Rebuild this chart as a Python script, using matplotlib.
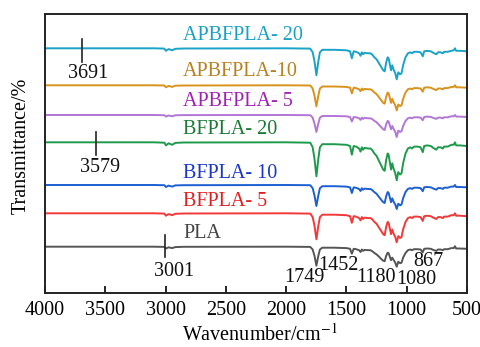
import matplotlib
matplotlib.use('Agg')
import matplotlib.pyplot as plt
import numpy as np

plt.rcParams['font.family'] = ['Liberation Serif', 'DejaVu Serif']
plt.rcParams['mathtext.fontset'] = 'stix'

# shared wavenumber grid (cm-1)
wavenumber = [4000, 3100, 3010, 2997, 2975, 2945, 2920, 2850,
              2000, 1800, 1780, 1765, 1749, 1733, 1720, 1700,
              1600, 1500, 1470, 1455, 1440, 1420, 1395, 1383,
              1372, 1362, 1350, 1320, 1300, 1285, 1268, 1250,
              1230, 1210, 1195, 1183, 1170, 1158, 1150, 1130,
              1120, 1110, 1095, 1083, 1070, 1055, 1043, 1030,
              1010, 990, 970, 956, 940, 910, 885, 867,
              855, 830, 800, 780, 755, 740, 720, 700,
              690, 660, 630, 610, 600, 590, 560, 500]

# dip below each trace's baseline
apb20 = [0, 0, 0.3, 2.5, 0.8, 2.0, 0.5, 0.2,
         0, 0.3, 4, 13, 27, 13, 4, 1.5,
         1.5, 2, 3, 10, 3, 3.5, 5, 7.5,
         4, 6, 4.5, 5, 5, 6.5, 9, 11,
         15, 19, 22, 23, 14, 9, 10, 22,
         17, 21, 25, 31, 24, 26, 25, 17,
         9, 5, 4, 5, 3.5, 3.5, 4, 8,
         3, 2.5, 3, 4.5, 6, 4, 4, 5,
         3.5, 3.5, 2.5, 2, 0, 2.5, 2.5, 3]
apb10 = [0, 0, 0.2, 2.0, 0.6, 1.6, 0.4, 0.2,
         0, 0.2, 3.2, 10.4, 21, 10.4, 3.2, 1.2,
         1.2, 1.6, 2.4, 8, 2.4, 2.8, 4, 6,
         3.2, 4.8, 3.6, 4, 4, 5.2, 7.2, 8.8,
         12, 15.2, 17.6, 18.4, 11.2, 7.2, 8, 17.6,
         13.6, 16.8, 20, 25, 19.2, 20.8, 20, 13.6,
         7.2, 4, 3.2, 4, 2.8, 2.8, 3.2, 6.4,
         2.4, 2, 2.4, 3.6, 4.8, 3.2, 3.2, 4,
         2.8, 2.8, 1.6, 1.6, 0, 2, 2, 2.4]
apb5 = [0, 0, 0.2, 1.6, 0.5, 1.3, 0.3, 0.1,
        0, 0.2, 2.6, 8.5, 17, 8.5, 2.6, 1,
        1, 1.3, 2, 6.5, 2, 2.3, 3.3, 4.9,
        2.6, 3.9, 2.9, 3.3, 3.3, 4.2, 5.9, 7.2,
        9.8, 12.4, 14.3, 15, 9.1, 5.9, 6.5, 14.3,
        11, 13.7, 17, 22, 15.6, 16.9, 16.3, 11,
        5.9, 3.3, 2.6, 3.3, 2.3, 2.3, 2.6, 5.2,
        2, 1.6, 2, 2.9, 3.9, 2.6, 2.6, 3.3,
        2.3, 2.3, 1.3, 1.3, 0, 1.6, 1.6, 2]
bf20 = [0, 0, 0.4, 3.1, 1, 2.5, 0.6, 0.2,
        0, 0.4, 5, 16.4, 34, 16.4, 5, 1.9,
        1.9, 2.5, 3.7, 12.4, 3.7, 4.3, 6.2, 9.3,
        5, 7.4, 5.6, 6.2, 6.2, 8, 11.2, 13.6,
        18.6, 23.6, 27.3, 28.5, 17.4, 11.2, 12.4, 27.3,
        21, 26, 31, 38, 29.8, 32.2, 31, 21,
        11.2, 6.2, 5, 6.2, 4.3, 4.3, 5, 9.9,
        3.7, 3.1, 3.7, 5.6, 7.4, 5, 5, 6.2,
        4.3, 4.3, 2.5, 2.5, 0, 3.1, 3.1, 3.7]
bf10 = [0, 0, 0.2, 2.0, 0.6, 1.6, 0.4, 0.2,
        0, 0.2, 3.2, 10.4, 21, 10.4, 3.2, 1.2,
        1.2, 1.6, 2.4, 8, 2.4, 2.8, 4, 6,
        3.2, 4.8, 3.6, 4, 4, 5.2, 7.2, 8.8,
        12, 15, 17.2, 18, 11, 7, 7.8, 17.2,
        13.3, 16.4, 19.5, 24, 18.7, 20.3, 19.5, 13.3,
        7, 3.9, 3.1, 3.9, 2.7, 2.7, 3.1, 6.2,
        2.3, 2, 2.3, 3.5, 4.7, 3.1, 3.1, 3.9,
        2.7, 2.7, 1.6, 1.6, 0, 2, 2, 2.3]
bf5 = [0, 0, 0.3, 2.4, 0.8, 1.9, 0.5, 0.2,
       0, 0.3, 3.8, 12.4, 26, 12.4, 3.8, 1.4,
       1.4, 1.9, 2.9, 9.5, 2.9, 3.3, 4.8, 7.1,
       3.8, 5.7, 4.3, 4.8, 4.8, 6.2, 8.6, 10.5,
       14.3, 18, 20.9, 21.9, 13.3, 8.6, 9.5, 20.9,
       16.2, 20, 23.8, 29, 22.8, 24.7, 23.8, 16.2,
       8.6, 4.8, 3.8, 4.8, 3.3, 3.3, 3.8, 7.6,
       2.9, 2.4, 2.9, 4.3, 5.7, 3.8, 3.8, 4.8,
       3.3, 3.3, 1.9, 1.9, 0, 2.4, 2.4, 2.9]
pla = [0, 0, 0.2, 1.8, 0.6, 1.4, 0.4, 0.1,
       0, 0.2, 2.8, 9.1, 19, 9.1, 2.8, 1,
       1, 1.4, 2.1, 7, 2.1, 2.5, 3.5, 5.3,
       2.8, 4.2, 3.2, 3.5, 3.5, 4.6, 6.3, 7.7,
       10, 12.5, 14, 14.5, 9, 6, 6.5, 13.5,
       11, 13, 16, 20, 15, 16.5, 16, 11,
       6.3, 3.5, 2.8, 3.5, 2.5, 2.5, 2.8, 5.6,
       2.1, 1.8, 2.1, 3.2, 4.2, 2.8, 2.8, 3.5,
       2.5, 2.5, 1.4, 1.4, -0.5, 1.8, 1.8, 2.1]

names = ['APBFPLA- 20', 'APBFPLA-10', 'APBFPLA- 5', 'BFPLA- 20',
         'BFPLA- 10', 'BFPLA- 5', 'PLA']
spectra = [apb20, apb10, apb5, bf20, bf10, bf5, pla]
baselines = [244.7, 207.7, 178, 150.7, 108, 79.7, 46.3]
label_y = [258, 221, 192, 164, 120, 91, 60]
line_colors = ['#1aa3c8', '#d9921c', '#b276d6', '#1e9a4c', '#1c5fd2', '#f23838', '#555555']
text_colors = ['#17a2c4', '#b8801f', '#a020b4', '#1a7a34', '#1a35c8', '#e02020', '#444444']

marks = ['3691', '3579', '3001']
mark_x = [3691, 3579, 3001]
mark_y0 = [231, 138, 36]
mark_y1 = [254, 161, 58]
mark_tx = [3643, 3544, 2930]
mark_ty = [219, 125, 22]

peaks = ['1749', '1452', '1180', '1080', '867']
peak_tx = [1852, 1570, 1255, 923, 823]
peak_ty = [16, 28, 16, 14, 31]

fs = 14.5

fig = plt.figure(figsize=(4.81, 3.47), dpi=100)
ax = fig.add_axes([45 / 481, 54 / 347, 422 / 481, 279 / 347])

wn = np.array(wavenumber)
for name, dip, base, ly, lc, tc in zip(names, spectra, baselines, label_y, line_colors, text_colors):
    ax.plot(wn, base - np.array(dip), color=lc, lw=1.4, solid_joinstyle='round')
    ax.text(2855, ly, name, color=tc, fontsize=fs, va='center', ha='left')

for m, x, y0, y1, tx, ty in zip(marks, mark_x, mark_y0, mark_y1, mark_tx, mark_ty):
    ax.plot([x, x], [y0, y1], color='#222222', lw=1.2)
    ax.text(tx, ty, m, fontsize=fs, ha='center', va='center', color='#111111')

for p, tx, ty in zip(peaks, peak_tx, peak_ty):
    ax.text(tx, ty, p, fontsize=fs, ha='center', va='center', color='#111111')

ax.set_xlim(4000, 500)
ax.set_ylim(0, 279)
ax.set_xticks(range(4000, 499, -500))
ax.set_yticks([])
ax.tick_params(axis='x', direction='in', length=5, width=1.2, labelsize=fs, pad=6)
for s in ax.spines.values():
    s.set_linewidth(1.4)
    s.set_color('#222222')

fig.text(260 / 481, 1 - 335 / 347, 'Wavenumber/cm$^{-1}$', fontsize=fs, ha='center', va='center')
fig.text(21 / 481, 1 - 146 / 347, 'Transmittance/%', fontsize=fs, ha='center', va='center', rotation=90)

plt.savefig('out.png', dpi=100)
